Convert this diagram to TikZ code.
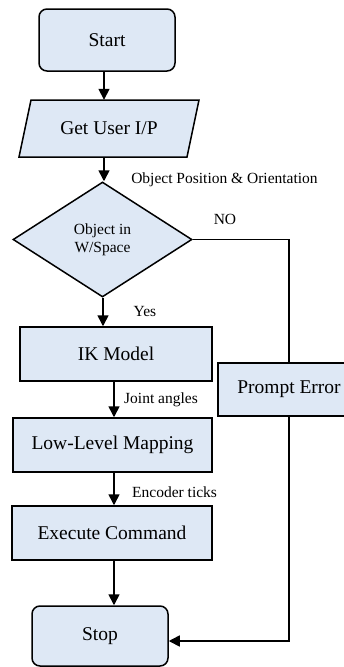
\documentclass[tikz,border=0pt]{standalone}
\usepackage{fontspec}
\setmainfont{Liberation Serif}
\usetikzlibrary{arrows.meta,shapes.geometric}
\definecolor{boxfill}{RGB}{222,232,245}
\tikzset{
  base/.style={draw=black, fill=boxfill, line width=1.5pt, inner sep=0pt, font=\fontsize{19.5}{22}\selectfont},
  procbox/.style={base, rectangle},
  termbox/.style={base, rectangle, rounded corners=8pt},
  decbox/.style={base, diamond, align=center, font=\fontsize{15.5}{19}\selectfont},
  lbl/.style={font=\fontsize{15.5}{18}\selectfont, inner sep=0pt},
  conn/.style={line width=1.6pt, -{Triangle[length=11pt,width=11pt]}},
  line/.style={line width=1.6pt}
}
\begin{document}
\begin{tikzpicture}[x=1pt,y=-1pt]
\useasboundingbox (0,0) rectangle (343,667);
% nodes
\node[termbox, minimum width=136pt, minimum height=62pt] (start) at (107,40) {Start};
\fill[boxfill] (31,100) -- (199,100) -- (187,157) -- (19,157) -- cycle;
\draw[line width=1.5pt] (31,100) -- (199,100) -- (187,157) -- (19,157) -- cycle;
\node[inner sep=0pt, minimum width=168pt, minimum height=57pt, font=\fontsize{19.5}{22}\selectfont] (gup) at (109,128.5) {Get User I/P};
\node[decbox, minimum width=179pt, minimum height=115pt] (dec) at (102.5,239.5) {Object in\\[-1pt]W/Space};
\node[procbox, minimum width=192pt, minimum height=54pt] (ik) at (116,354) {IK Model};
\node[procbox, minimum width=199pt, minimum height=54pt] (ll) at (112.5,445) {Low-Level Mapping};
\node[procbox, minimum width=200pt, minimum height=54pt] (ex) at (112,533) {Execute Command};
\node[termbox, minimum width=136pt, minimum height=60pt] (stop) at (100,636) {Stop};
\node[procbox, minimum width=142pt, minimum height=53pt] (pe) at (289,389.5) {Prompt Error};
% helper coordinates
\coordinate (c1) at (104,0);
\coordinate (c2) at (103,0);
\coordinate (c3) at (114,0);
\coordinate (cno) at (289,239.5);
\coordinate (cret) at (289,641);
% connectors
\draw[conn] (start.south -| c1) -- (gup.north -| c1);
\draw[conn] (gup.south -| c1) -- (dec.north -| c1);
\draw[conn] (dec.south -| c2) -- (ik.north -| c2);
\draw[conn] (ik.south -| c3) -- (ll.north -| c3);
\draw[conn] (ll.south -| c3) -- (ex.north -| c3);
\draw[conn] (ex.south -| c3) -- (stop.north -| c3);
\draw[line] (dec.east) -- (cno) -- (pe.north);
\draw[conn] (pe.south) -- (cret) -- (stop.east |- cret);
% labels
\node[lbl] (l1) at (224.5,180) {Object Position \& Orientation};
\node[lbl] (l2) at (225,219) {NO};
\node[lbl] (l3) at (145,311) {Yes};
\node[lbl, anchor=west] (l4) at (124,400) {Joint angles};
\node[lbl, anchor=west] (l5) at (132,492) {Encoder ticks};
\end{tikzpicture}
\end{document}
